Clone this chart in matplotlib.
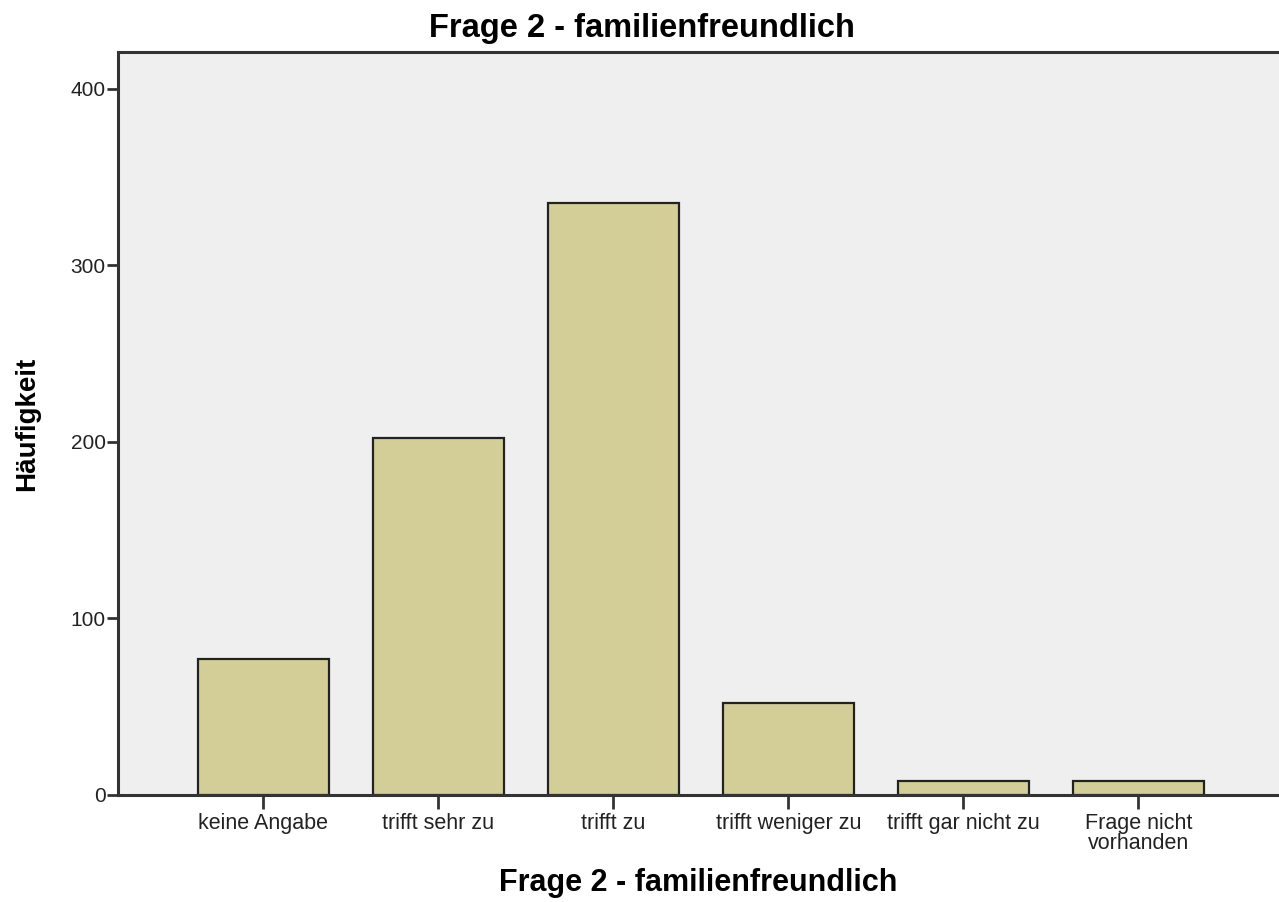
import matplotlib
matplotlib.use("Agg")
import matplotlib.pyplot as plt
import numpy as np

# data
categories = ["keine Angabe", "trifft sehr zu", "trifft zu", "trifft weniger zu",
              "trifft gar nicht zu", "Frage nicht\nvorhanden"]
counts = [77, 202, 335, 52, 8, 8]
yticks = [0, 100, 200, 300, 400]

BAR = "#D3CE97"
BG = "#EFEFEF"
INK = "#333333"

plt.rcParams["font.family"] = ["Liberation Sans", "DejaVu Sans"]

fig = plt.figure(figsize=(12.79, 9.02), dpi=100)
ax = fig.add_axes([118 / 1279, 1 - 795 / 902, 1 - 118 / 1279, (795 - 52) / 902])
ax.set_facecolor(BG)

x = np.arange(len(categories))
ax.bar(x, counts, width=0.75, color=BAR, edgecolor="#222222", linewidth=1.6, zorder=2)

ax.set_xlim(-0.831, 5.803)
ax.set_ylim(0, 420.7)
ax.set_xticks(x)
ax.set_xticklabels(categories, fontsize=15.5, color="#222222", linespacing=0.95)
ax.set_yticks(yticks)
ax.set_yticklabels([str(v) for v in yticks], fontsize=15, color="#222222")
ax.tick_params(axis="x", length=10, width=2, color=INK, pad=3)
ax.tick_params(axis="y", length=8, width=2, color=INK, pad=1)

for side in ("left", "top", "bottom"):
    ax.spines[side].set_color(INK)
    ax.spines[side].set_linewidth(2.2)
ax.spines["right"].set_visible(False)

ax.set_xlabel("Frage 2 - familienfreundlich", fontsize=22, fontweight="bold", labelpad=10)
ax.set_ylabel("Häufigkeit", fontsize=20, fontweight="bold", labelpad=22)
fig.text(0.502, 1 - 29 / 902, "Frage 2 - familienfreundlich", ha="center", va="center",
         fontsize=23.5, fontweight="bold")

fig.savefig("out.png", dpi=100)
